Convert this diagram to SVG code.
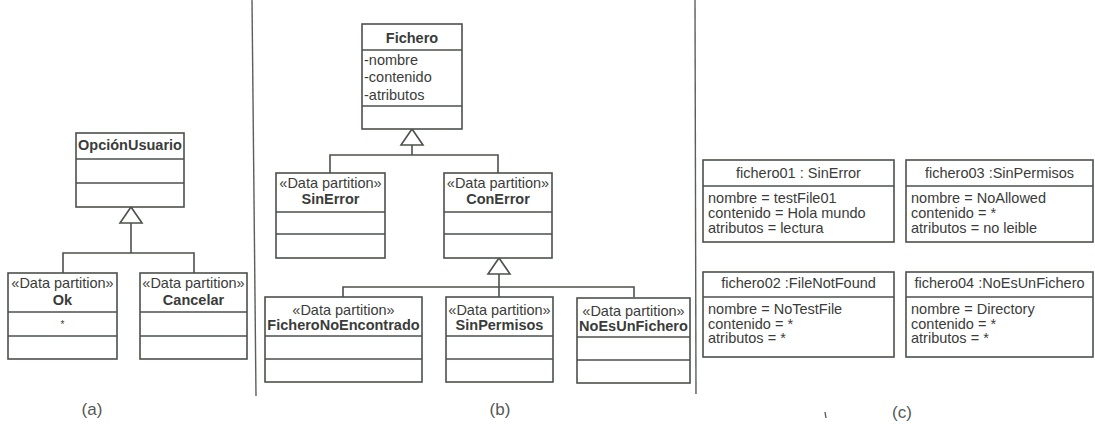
<svg xmlns="http://www.w3.org/2000/svg" width="1095" height="424" viewBox="0 0 1095 424">
  <style>
    .box { fill: #ffffff; stroke: #4b514b; stroke-width: 1.6; }
    .sep { stroke: #4b514b; stroke-width: 1.6; fill: none; }
    .wire { stroke: #4b514b; stroke-width: 1.6; fill: none; }
    .div { stroke: #5a5f5a; stroke-width: 1.4; fill: none; }
    .gen { fill: #ffffff; stroke: #4b514b; stroke-width: 1.6; stroke-linejoin: miter; }
    text { font-family: "Liberation Sans", Arial, sans-serif; font-size: 14.5px; fill: #3a3c3a; }
    .c { text-anchor: middle; }
    .b { font-weight: bold; }
    .lbl { font-size: 17px; fill: #555855; text-anchor: middle; }
  </style>
  <defs>
    <!-- hollow generalization triangle, apex at origin -->
    <path id="gen" class="gen" d="M0,0 L-11,16 L11,16 Z"/>
  </defs>

  <rect width="1095" height="424" fill="#ffffff"/>

  <!-- panel dividers -->
  <g id="dividers">
    <line class="div" x1="252" y1="0" x2="256" y2="396"/>
    <line class="div" x1="695" y1="0" x2="696" y2="394"/>
  </g>

  <!-- generalization connectors -->
  <g id="connectors">
    <!-- (a) -->
    <polyline class="wire" points="131,223 131,253"/>
    <polyline class="wire" points="63,273 63,253 194,253 194,273"/>
    <use href="#gen" x="131" y="207"/>
    <!-- (b) Fichero -->
    <polyline class="wire" points="412,145 412,155"/>
    <polyline class="wire" points="330,173 330,155 498,155 498,173"/>
    <use href="#gen" x="412" y="129"/>
    <!-- (b) ConError -->
    <polyline class="wire" points="499,273 499,287"/>
    <polyline class="wire" points="343,297 343,287 634,287 634,297"/>
    <line class="wire" x1="499" y1="287" x2="499" y2="297"/>
    <use href="#gen" x="499" y="258"/>
  </g>

  <!-- (a) classes -->
  <g id="opcion-usuario">
    <rect class="box" x="76" y="133" width="108" height="74"/>
    <line class="sep" x1="76" y1="159" x2="184" y2="159"/>
    <line class="sep" x1="76" y1="183" x2="184" y2="183"/>
    <text class="c b" x="130" y="150">OpciónUsuario</text>
  </g>
  <g id="ok">
    <rect class="box" x="8" y="273" width="109" height="86"/>
    <line class="sep" x1="8" y1="312" x2="117" y2="312"/>
    <line class="sep" x1="8" y1="336" x2="117" y2="336"/>
    <text class="c" x="62.5" y="288">«Data partition»</text>
    <text class="c b" x="62.5" y="305">Ok</text>
    <text class="c" x="62.5" y="328" style="font-size:10px">*</text>
  </g>
  <g id="cancelar">
    <rect class="box" x="140" y="273" width="107" height="86"/>
    <line class="sep" x1="140" y1="312" x2="247" y2="312"/>
    <line class="sep" x1="140" y1="336" x2="247" y2="336"/>
    <text class="c" x="193.5" y="288">«Data partition»</text>
    <text class="c b" x="193.5" y="305">Cancelar</text>
  </g>

  <!-- (b) classes -->
  <g id="fichero">
    <rect class="box" x="362" y="24" width="100" height="105"/>
    <line class="sep" x1="362" y1="50" x2="462" y2="50"/>
    <line class="sep" x1="362" y1="106" x2="462" y2="106"/>
    <text class="c b" x="412" y="43">Fichero</text>
    <text x="364" y="65">-nombre</text>
    <text x="364" y="82">-contenido</text>
    <text x="364" y="100">-atributos</text>
  </g>
  <g id="sin-error">
    <rect class="box" x="276" y="173" width="109" height="85"/>
    <line class="sep" x1="276" y1="212" x2="385" y2="212"/>
    <line class="sep" x1="276" y1="234" x2="385" y2="234"/>
    <text class="c" x="330.5" y="188">«Data partition»</text>
    <text class="c b" x="330.5" y="204">SinError</text>
  </g>
  <g id="con-error">
    <rect class="box" x="444" y="173" width="108" height="85"/>
    <line class="sep" x1="444" y1="212" x2="552" y2="212"/>
    <line class="sep" x1="444" y1="234" x2="552" y2="234"/>
    <text class="c" x="498" y="188">«Data partition»</text>
    <text class="c b" x="498" y="204">ConError</text>
  </g>
  <g id="fichero-no-encontrado">
    <rect class="box" x="265" y="297" width="157" height="85"/>
    <line class="sep" x1="265" y1="336" x2="422" y2="336"/>
    <line class="sep" x1="265" y1="359" x2="422" y2="359"/>
    <text class="c" x="343.5" y="315">«Data partition»</text>
    <text class="c b" x="343.5" y="330">FicheroNoEncontrado</text>
  </g>
  <g id="sin-permisos">
    <rect class="box" x="446" y="297" width="107" height="85"/>
    <line class="sep" x1="446" y1="336" x2="553" y2="336"/>
    <line class="sep" x1="446" y1="359" x2="553" y2="359"/>
    <text class="c" x="499.5" y="315">«Data partition»</text>
    <text class="c b" x="499.5" y="330">SinPermisos</text>
  </g>
  <g id="no-es-un-fichero">
    <rect class="box" x="577" y="298" width="113" height="85"/>
    <line class="sep" x1="577" y1="337" x2="690" y2="337"/>
    <line class="sep" x1="577" y1="360" x2="690" y2="360"/>
    <text class="c" x="633.5" y="316">«Data partition»</text>
    <text class="c b" x="633.5" y="331">NoEsUnFichero</text>
  </g>

  <!-- (c) objects -->
  <g id="fichero01">
    <rect class="box" x="703" y="160" width="191" height="82"/>
    <line class="sep" x1="703" y1="186" x2="894" y2="186"/>
    <text class="c" x="798.5" y="178">fichero01 : SinError</text>
    <text x="708" y="203">nombre = testFile01</text>
    <text x="708" y="218">contenido = Hola mundo</text>
    <text x="708" y="233">atributos = lectura</text>
  </g>
  <g id="fichero03">
    <rect class="box" x="906" y="160" width="187" height="82"/>
    <line class="sep" x1="906" y1="186" x2="1093" y2="186"/>
    <text class="c" x="999.5" y="178">fichero03 :SinPermisos</text>
    <text x="911" y="203">nombre = NoAllowed</text>
    <text x="911" y="218">contenido = *</text>
    <text x="911" y="233">atributos = no leible</text>
  </g>
  <g id="fichero02">
    <rect class="box" x="703" y="272" width="191" height="85"/>
    <line class="sep" x1="703" y1="297" x2="894" y2="297"/>
    <text class="c" x="798.5" y="288">fichero02 :FileNotFound</text>
    <text x="708" y="314">nombre = NoTestFile</text>
    <text x="708" y="329">contenido = *</text>
    <text x="708" y="343">atributos = *</text>
  </g>
  <g id="fichero04">
    <rect class="box" x="906" y="272" width="187" height="85"/>
    <line class="sep" x1="906" y1="297" x2="1093" y2="297"/>
    <text class="c" x="999.5" y="288">fichero04 :NoEsUnFichero</text>
    <text x="911" y="314">nombre = Directory</text>
    <text x="911" y="329">contenido = *</text>
    <text x="911" y="343">atributos = *</text>
  </g>

  <!-- panel captions -->
  <g id="captions">
    <text class="lbl" x="92" y="415">(a)</text>
    <text class="lbl" x="500" y="415">(b)</text>
    <text class="lbl" x="902" y="418">(c)</text>
    <line class="div" x1="825" y1="412" x2="826" y2="418"/>
  </g>
</svg>
